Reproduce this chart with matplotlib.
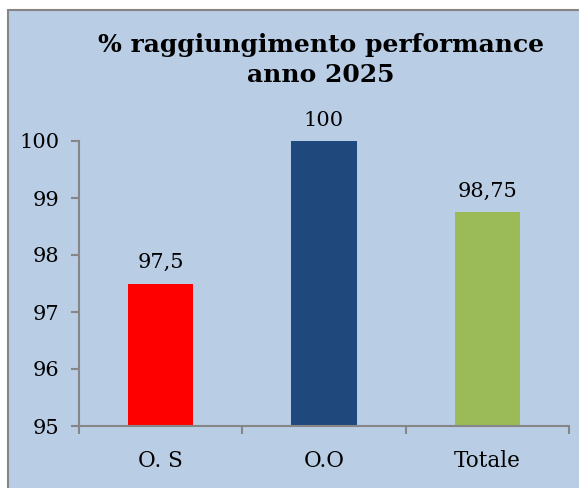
import matplotlib
matplotlib.use("Agg")
import matplotlib.pyplot as plt
from matplotlib.patches import Rectangle

categories = ["O. S", "O.O", "Totale"]
values = [97.5, 100, 98.75]
colors = ["#FF0000", "#1F497D", "#9BBB59"]
yticks = [95, 96, 97, 98, 99, 100]
title = "% raggiungimento performance\nanno 2025"

BG = "#B9CDE5"
AXIS = "#868686"
SERIF = "DejaVu Serif"

fig = plt.figure(figsize=(5.79, 4.88), dpi=100)
fig.patch.set_facecolor("white")

# chart area panel with grey border
panel = Rectangle((8 / 579, -0.05), 1.1, 1 - 10 / 488 + 0.05,
                  transform=fig.transFigure, facecolor=BG,
                  edgecolor=AXIS, linewidth=1.5, zorder=-1)
fig.patches.append(panel)

ax = fig.add_axes([79 / 579, 1 - 426 / 488, 490 / 579, 285 / 488])
ax.set_facecolor("none")

x = list(range(len(categories)))
ax.bar(x, [v - 95 for v in values], bottom=95, width=0.4, color=colors, zorder=2)

ax.set_xlim(-0.5, len(categories) - 0.5)
ax.set_ylim(95, 100)

for xi, v in zip(x, values):
    txt = f"{v:g}".replace(".", ",")
    ax.annotate(txt, (xi, v), xytext=(0, 8), textcoords="offset points",
                ha="center", va="bottom", fontsize=15, family=SERIF,
                color="black")

ax.set_yticks(yticks)
ax.set_yticklabels([str(t) for t in yticks], fontsize=15, family=SERIF)
ax.set_xticks(x)
ax.set_xticklabels(categories, fontsize=15.5, family=SERIF)
ax.tick_params(axis="x", which="major", length=0, pad=17)
ax.set_xticks([-0.5, 0.5, 1.5, 2.5], minor=True)
ax.tick_params(axis="x", which="minor", length=6, width=1.5, color=AXIS, direction="out")
ax.tick_params(axis="y", length=6, width=1.5, color=AXIS, direction="out", pad=8)

for s in ["top", "right"]:
    ax.spines[s].set_visible(False)
for s in ["left", "bottom"]:
    ax.spines[s].set_color(AXIS)
    ax.spines[s].set_linewidth(1.5)

fig.text(321 / 579, 1 - 60 / 488, title, ha="center", va="center",
         fontsize=18, fontweight="bold", family=SERIF, linespacing=1.3)

fig.savefig("out.png", dpi=100, facecolor=fig.get_facecolor())
